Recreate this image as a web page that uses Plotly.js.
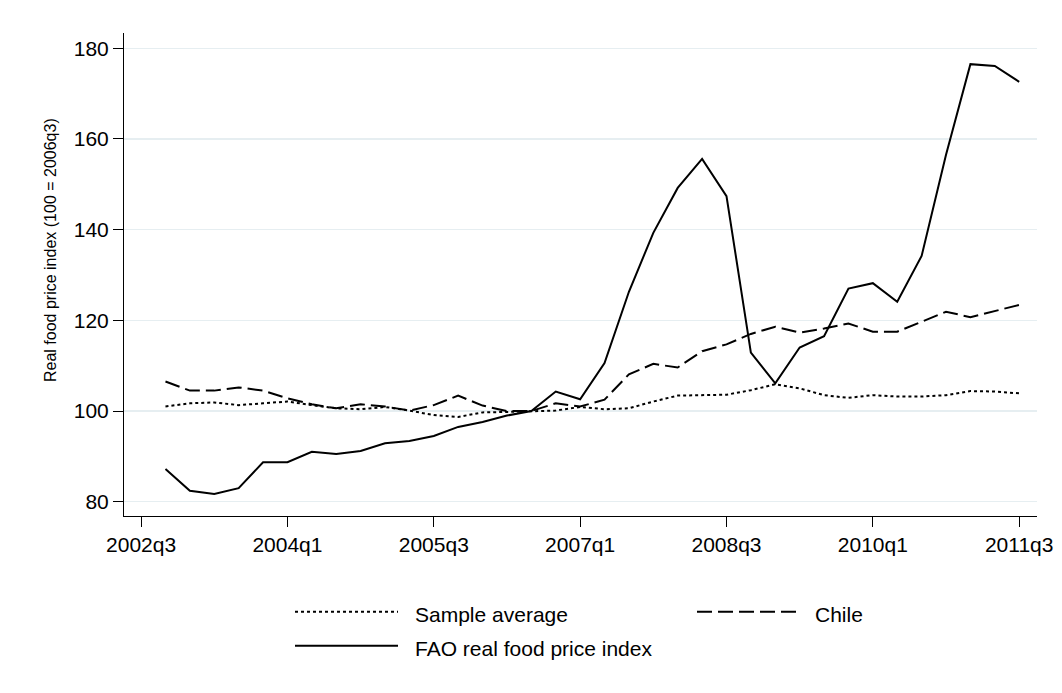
<!DOCTYPE html>
<html>
<head>
<meta charset="utf-8">
<script src="https://cdn.plot.ly/plotly-3.0.1.min.js"></script>
<style>html,body{margin:0;padding:0;background:#fff;}#chart{width:1062px;height:693px;}</style>
</head>
<body>
<div id="chart"></div>
<script>
// Quarters 2002q4 .. 2011q3 (index 1 = 2002q4, index 0 = 2002q3)
const quarters = ["2002q4","2003q1","2003q2","2003q3","2003q4","2004q1","2004q2","2004q3","2004q4",
  "2005q1","2005q2","2005q3","2005q4","2006q1","2006q2","2006q3","2006q4","2007q1","2007q2","2007q3",
  "2007q4","2008q1","2008q2","2008q3","2008q4","2009q1","2009q2","2009q3","2009q4","2010q1","2010q2",
  "2010q3","2010q4","2011q1","2011q2","2011q3"];
const sampleAverage = [101.0,101.7,101.9,101.3,101.7,102.1,101.3,100.6,100.4,100.9,100.1,99.1,98.7,99.7,99.8,100.0,
  100.1,100.9,100.4,100.6,102.1,103.4,103.5,103.6,104.6,105.9,105.0,103.5,102.9,103.5,103.2,103.2,103.5,104.4,104.3,103.9];
const chile = [106.5,104.5,104.5,105.2,104.5,102.8,101.5,100.6,101.5,101.0,100.1,101.3,103.4,101.2,100.0,100.0,
  101.7,101.0,102.5,108.1,110.4,109.6,113.2,114.7,117.0,118.6,117.3,118.2,119.3,117.5,117.5,119.7,121.9,120.7,122.1,123.4];
const fao = [87.2,82.4,81.7,83.0,88.7,88.7,91.0,90.5,91.2,92.9,93.4,94.5,96.5,97.6,99.0,100.0,
  104.3,102.6,110.6,126.3,139.3,149.2,155.6,147.4,112.9,106.1,114.0,116.5,127.0,128.2,124.1,134.2,156.5,176.5,176.1,172.6];
const tickLabels = ["2002q3","2004q1","2005q3","2007q1","2008q3","2010q1","2011q3"];
const yTicks = [80,100,120,140,160,180];
const seriesNames = ["Sample average","Chile","FAO real food price index"];

const xIdx = quarters.map((q,i)=>i+1);
const tickVals = tickLabels.map((t,i)=>i*6);

const traces = [
  {x:xIdx, y:sampleAverage, name:seriesNames[0], type:'scatter', mode:'lines', line:{color:'#000',width:2,dash:'3px,3px'}},
  {x:xIdx, y:chile, name:seriesNames[1], type:'scatter', mode:'lines', line:{color:'#000',width:2,dash:'15px,6px'}},
  {x:xIdx, y:fao, name:seriesNames[2], type:'scatter', mode:'lines', line:{color:'#000',width:2}}
];

const F = 'Liberation Sans, Arial, Helvetica, sans-serif';
const L = 124, R = 1037, T = 33, B = 516;
const pw = R-L, ph = B-T;
const px = v => (v-L)/pw;
const py = v => (B-v)/ph;

const legendItems = [
  {x0:295,x1:398,y:611.7,tx:413,ty:614,dash:'3px,3px',text:seriesNames[0]},
  {x0:697,x1:798,y:611.7,tx:813,ty:614,dash:'15px,6px',text:seriesNames[1]},
  {x0:295,x1:398,y:645.7,tx:413,ty:648,dash:'solid',text:seriesNames[2]}
];

const shapes = legendItems.map(it=>({type:'line',xref:'paper',yref:'paper',x0:px(it.x0),x1:px(it.x1),y0:py(it.y),y1:py(it.y),
  line:{color:'#000',width:2,dash:it.dash}}));
const annotations = legendItems.map(it=>({xref:'paper',yref:'paper',x:px(it.tx),y:py(it.ty),xanchor:'left',yanchor:'middle',
  text:it.text,showarrow:false,font:{family:F,size:21,color:'#000'}}));
annotations.push({xref:'paper',yref:'paper',x:px(50),y:py(250),xanchor:'center',yanchor:'middle',textangle:-90,
  text:'Real food price index (100 = 2006q3)',showarrow:false,font:{family:F,size:16,color:'#000'}});

const layout = {
  width:1062, height:693,
  margin:{l:L, r:1062-R, t:T, b:693-B, pad:0},
  paper_bgcolor:'#fff', plot_bgcolor:'#fff',
  showlegend:false,
  font:{family:F, color:'#000'},
  xaxis:{range:[-0.7,36.73], tickvals:tickVals, ticktext:tickLabels, showgrid:false, zeroline:false,
    showline:true, linecolor:'#000', linewidth:1, ticks:'outside', ticklen:10, tickcolor:'#000', tickwidth:1,
    tickfont:{family:F,size:21,color:'#000'}, fixedrange:true},
  yaxis:{range:[76.85,183.37], tickvals:yTicks, showgrid:true, gridcolor:'#e6eef1', gridwidth:1.5, zeroline:false,
    showline:true, linecolor:'#000', linewidth:1, ticks:'outside', ticklen:10, tickcolor:'#000', tickwidth:1,
    tickfont:{family:F,size:21,color:'#000'}, fixedrange:true},
  shapes:shapes,
  annotations:annotations
};

Plotly.newPlot('chart', traces, layout, {displayModeBar:false, staticPlot:true});
</script>
</body>
</html>
